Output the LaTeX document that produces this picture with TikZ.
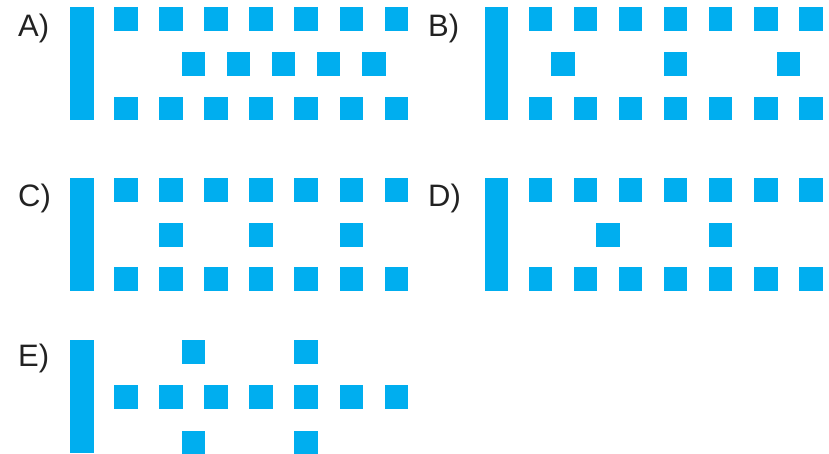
\documentclass[tikz,border=0pt]{standalone}
\usepackage{fontspec}
\setmainfont{Liberation Sans}
\usetikzlibrary{positioning}
\definecolor{sky}{HTML}{00AEEF}
\definecolor{ink}{HTML}{222222}
\tikzset{
  bar/.style={fill=sky},
  cell/.style={fill=sky},
  lbl/.style={anchor=base west,inner sep=0pt,text=ink,font=\fontsize{31}{34}\selectfont}
}
% one square: column k, row top y (inside a panel scope)
\newcommand{\cellat}[2]{\fill[cell] ({44+45.1*#1},#2) rectangle ++(23.5,23.5);}

\begin{document}
\begin{tikzpicture}[x=1pt,y=-1pt]
\useasboundingbox (0,0) rectangle (829,453);
% labels
\node[lbl] (labA) at (18,36.5){A)};
\node[lbl] (labB) at (428,36.5){B)};
\node[lbl] (labC) at (18,206){C)};
\node[lbl] (labD) at (428,206){D)};
\node[lbl] (labE) at (18,366.5){E)};
% A
\begin{scope}[shift={(70,7.3)}]
\fill[bar] (0,0) rectangle (23.5,112.7);
\foreach \k in {0,...,6}{\cellat{\k}{0}\cellat{\k}{89.2}}
\foreach \k in {1.5,2.5,3.5,4.5,5.5}{\cellat{\k}{45}}
\end{scope}
% B
\begin{scope}[shift={(484.5,7.3)}]
\fill[bar] (0,0) rectangle (23.5,112.7);
\foreach \k in {0,...,6}{\cellat{\k}{0}\cellat{\k}{89.2}}
\foreach \k in {0.5,3,5.5}{\cellat{\k}{45}}
\end{scope}
% C
\begin{scope}[shift={(70,178.3)}]
\fill[bar] (0,0) rectangle (23.5,112.2);
\foreach \k in {0,...,6}{\cellat{\k}{0}\cellat{\k}{89}}
\foreach \k in {1,3,5}{\cellat{\k}{45}}
\end{scope}
% D
\begin{scope}[shift={(484.5,178.3)}]
\fill[bar] (0,0) rectangle (23.5,112.2);
\foreach \k in {0,...,6}{\cellat{\k}{0}\cellat{\k}{89}}
\foreach \k in {1.5,4}{\cellat{\k}{45}}
\end{scope}
% E
\begin{scope}[shift={(70,340)}]
\fill[bar] (0,0) rectangle (23.5,113);
\foreach \k in {0,...,6}{\cellat{\k}{45.3}}
\foreach \k in {1.5,4}{\cellat{\k}{0}\cellat{\k}{90.7}}
\end{scope}
\end{tikzpicture}
\end{document}
